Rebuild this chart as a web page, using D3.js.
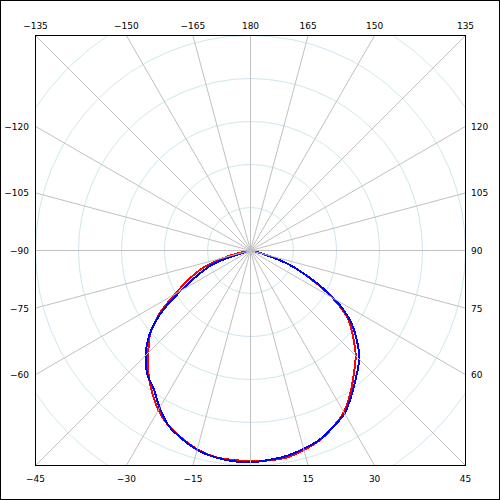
<!DOCTYPE html>
<html><head><meta charset="utf-8">
<script src="https://cdn.jsdelivr.net/npm/d3@7"></script>
<style>
body{margin:0;background:#fff}
text{font-family:"DejaVu Sans",sans-serif;font-size:9px;fill:#000}
</style>
</head><body>
<svg id="chart" width="500" height="500"></svg>
<script>
// ---- data ----
const angles = [-90,-85,-80,-75,-70,-65,-60,-55,-50,-45,-40,-35,-30,-25,-20,-15,-10,-5,0,
                5,10,15,20,25,30,35,40,45,50,55,60,65,70,75,80,85,90];
const redValues = [0,0,0.01,0.12,0.235,0.315,0.405,0.52,0.61,0.672,0.74,0.80,0.857,0.90,0.93,0.957,0.974,0.978,0.979,
                   0.98,0.977,0.96,0.94,0.907,0.868,0.81,0.748,0.692,0.622,0.553,0.44,0.305,0.192,0.055,0.01,0,0];
const blueValues = [0,0,0,0.01,0.185,0.27,0.375,0.51,0.615,0.69,0.748,0.785,0.845,0.90,0.932,0.96,0.975,0.983,0.985,
                    0.978,0.97,0.955,0.937,0.907,0.875,0.82,0.765,0.715,0.645,0.565,0.45,0.31,0.19,0.06,0.01,0,0];
const ringValues = [0.2,0.4,0.6,0.8,1.0,1.2];
const spokeAngles = [-165,-150,-135,-120,-105,-90,-75,-60,-45,-30,-15,0,15,30,45,60,75,90,105,120,135,150,165,180];
const topLabels = [-135,-150,-165,180,165,150,135];
const bottomLabels = [-45,-30,-15,15,30,45];
const leftLabels = [-120,-105,-90,-75,-60];
const rightLabels = [120,105,90,75,60];

// ---- layout ----
const cx = 250.5, cy = 250.5, half = 215;
const svg = d3.select("#chart");
const r = d3.scaleLinear().domain([0,1]).range([0,215]);
const rad = d => d*Math.PI/180;
const fmt = d => d < 0 ? "\u2212" + (-d) : String(d);
function edge(a){
  const s = Math.sin(rad(a)), c = Math.cos(rad(a));
  const t = half / Math.max(Math.abs(s), Math.abs(c));
  return [cx + t*s, cy + t*c];
}

svg.append("rect").attr("x",0.5).attr("y",0.5).attr("width",499).attr("height",499)
  .attr("fill","#fff").attr("stroke","#000").attr("shape-rendering","crispEdges");

svg.append("clipPath").attr("id","clip").append("rect")
  .attr("x",cx-half).attr("y",cy-half).attr("width",2*half).attr("height",2*half);

const plot = svg.append("g").attr("clip-path","url(#clip)");
const g = plot.append("g").attr("transform",`translate(${cx},${cy})`);

g.selectAll("circle.ring").data(ringValues).join("circle")
  .attr("class","ring").attr("r",d=>r(d)).attr("fill","none")
  .attr("stroke","#cde7ee").attr("stroke-width",1);

svg.selectAll("line.spoke").data(spokeAngles).join("line")
  .attr("class","spoke")
  .attr("x1",cx).attr("y1",cy)
  .attr("x2",d=>edge(d)[0]).attr("y2",d=>edge(d)[1])
  .attr("stroke","#c0c0c0").attr("stroke-width",1);

const line = vals => d3.lineRadial()
  .angle((d,i)=>Math.PI - rad(angles[i]))
  .radius(d=>r(d))
  .curve(d3.curveCatmullRom.alpha(0.5))(vals);

g.append("path").attr("d",line(redValues)).attr("fill","none")
  .attr("stroke","#ff0000").attr("stroke-width",2).attr("shape-rendering","crispEdges");
g.append("path").attr("d",line(blueValues)).attr("fill","none")
  .attr("stroke","#0000ff").attr("stroke-width",2).attr("shape-rendering","crispEdges");

svg.append("rect").attr("x",cx-half).attr("y",cy-half).attr("width",2*half).attr("height",2*half)
  .attr("fill","none").attr("stroke","#000").attr("shape-rendering","crispEdges");

svg.selectAll("text.top").data(topLabels).join("text").attr("class","top")
  .attr("x",d=>edge(d)[0]).attr("y",29).attr("text-anchor","middle").text(fmt);
svg.selectAll("text.bottom").data(bottomLabels).join("text").attr("class","bottom")
  .attr("x",d=>edge(d)[0]).attr("y",482).attr("text-anchor","middle").text(fmt);
svg.selectAll("text.left").data(leftLabels).join("text").attr("class","left")
  .attr("x",29).attr("y",d=>edge(d)[1]+3.5).attr("text-anchor","end").text(fmt);
svg.selectAll("text.right").data(rightLabels).join("text").attr("class","right")
  .attr("x",471).attr("y",d=>edge(d)[1]+3.5).attr("text-anchor","start").text(fmt);
</script>
</body></html>
